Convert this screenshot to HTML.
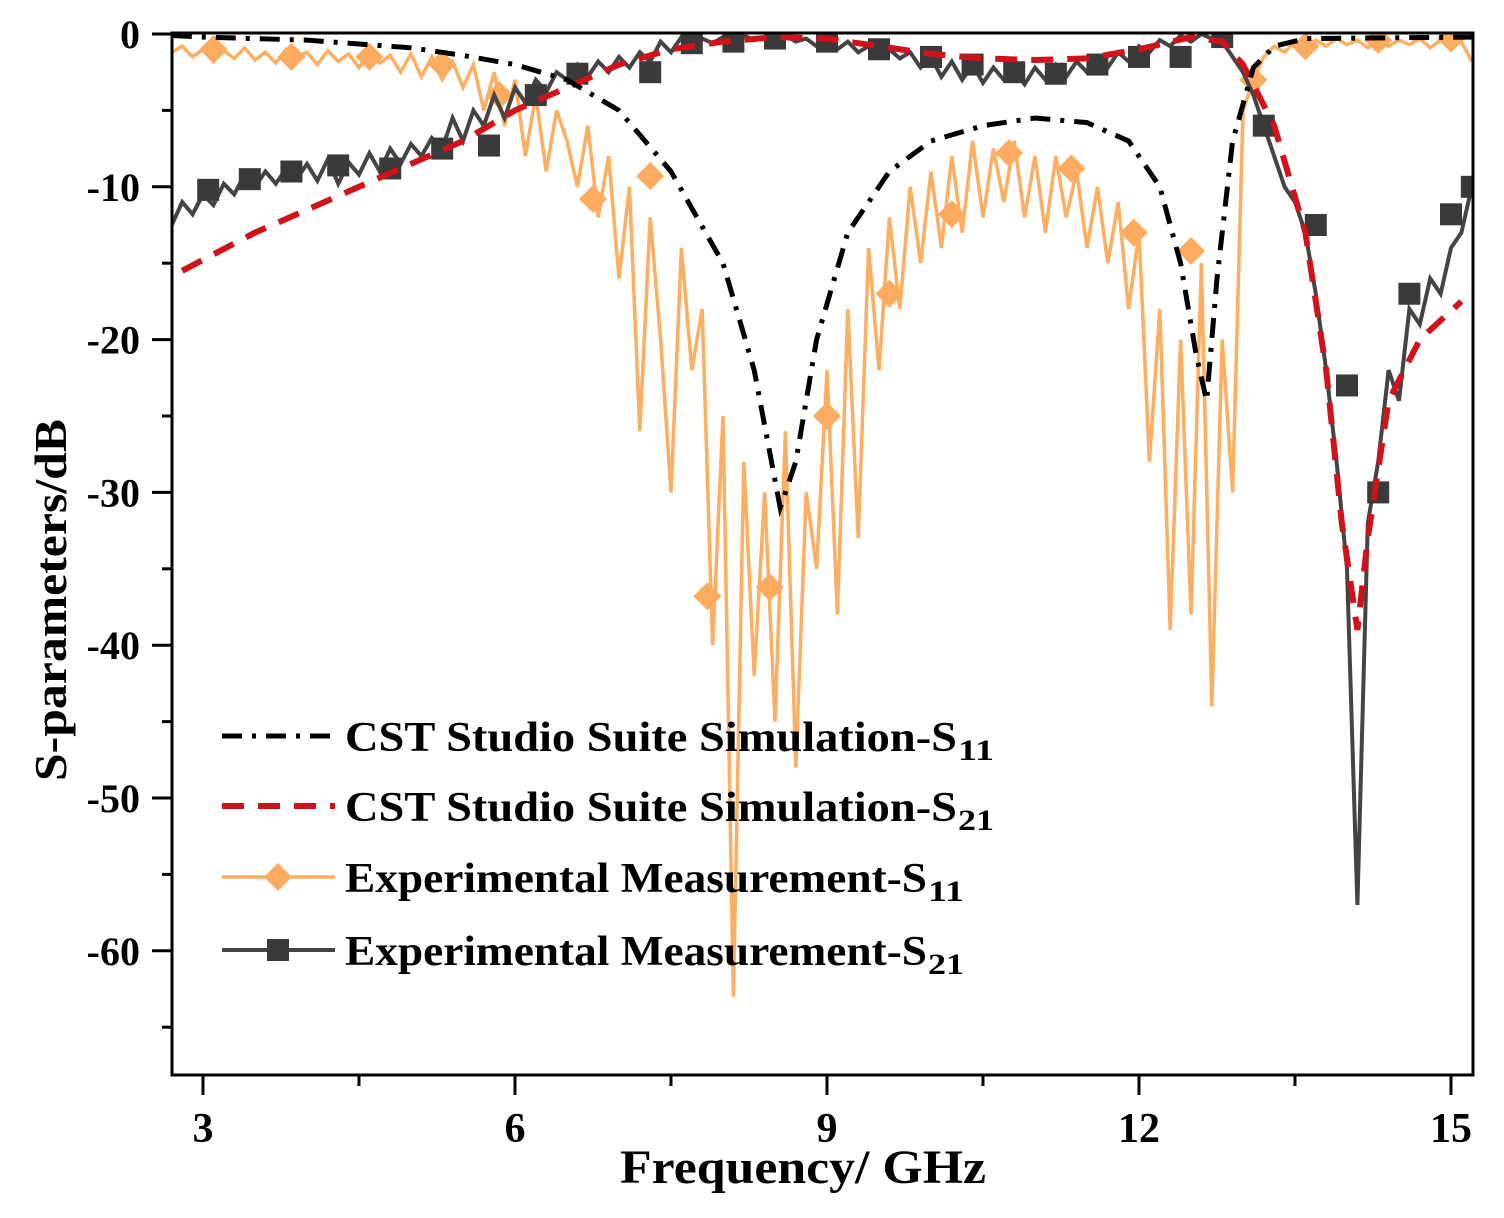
<!DOCTYPE html>
<html><head><meta charset="utf-8"><style>
html,body{margin:0;padding:0;background:#fff;}
svg{display:block;font-family:"Liberation Serif",serif;font-weight:bold;}
</style></head><body>
<svg id="chart" width="1504" height="1218" viewBox="0 0 1504 1218" xmlns="http://www.w3.org/2000/svg">
<defs><clipPath id="clip"><rect x="172" y="33" width="1301" height="1042"/></clipPath></defs>
<g id="plot" clip-path="url(#clip)"></g>
<rect x="172" y="33" width="1301" height="1042" fill="none" stroke="#000" stroke-width="3"/>
<g id="axes"></g>
<text x="620" y="1183" textLength="366" lengthAdjust="spacingAndGlyphs" font-size="48">Frequency/ GHz</text>
<text transform="translate(66,600) rotate(-90)" text-anchor="middle" textLength="362" lengthAdjust="spacingAndGlyphs" font-size="46">S-parameters/dB</text>
<g id="legend"></g>
</svg>
<script>
const xTicks=[3,6,9,12,15];
const xMinor=[4.5,7.5,10.5,13.5];
const yTicks=[0,-10,-20,-30,-40,-50,-60];
const yMinor=[-5,-15,-25,-35,-45,-55,-65];
const simS11F=[2.7,3,4,5,5.5,6,6.5,7,7.5,8,8.3,8.55,8.7,8.9,9.2,9.6,10,10.5,11,11.5,11.9,12.2,12.4,12.55,12.65,12.75,12.9,13.1,13.3,13.6,15.2];
const simS11V=[-0.1,-0.2,-0.4,-0.9,-1.4,-2,-3,-5,-9,-15,-22,-31,-28,-20,-13,-9,-7,-6,-5.5,-5.8,-7,-10,-15,-21,-24,-16,-7,-2.2,-0.8,-0.3,-0.2];
const simS21F=[2.8,3.5,4,4.5,5,5.5,6,6.5,7,7.5,8,8.5,9,9.5,10,10.5,11,11.5,12,12.5,12.8,13,13.3,13.6,13.8,13.95,14.1,14.2,14.4,14.7,15.1];
const simS21V=[-15.5,-13,-11.5,-10,-8.5,-7,-5,-3.5,-2,-1,-0.5,-0.2,-0.3,-0.8,-1.3,-1.6,-1.7,-1.6,-1,-0.2,-0.5,-2,-6,-13,-22,-32,-39,-33,-24,-20,-17.5];
const expStart=2.7, expStep=0.1;
const expS11=[-1.2,-0.8,-1.5,-1,-1.8,-1.1,-1.6,-0.9,-1.7,-1.2,-1.9,-1,-1.5,-1.2,-2,-1.1,-1.8,-1.3,-2.2,-1.2,-1.9,-1.4,-2.5,-1.3,
-2.8,-1.5,-3,-1.8,-3.5,-2,-5,-2.5,-6,-3,
-8,-4,-9,-5,-7,-10,-6,-12,-8,-16,
-10,-26,-12,-20,-30,-14,-22,-18,-40,-25,
-63,-28,-42,-30,-45,-26,-48,-30,-35,-22,
-38,-18,-33,-14,-22,-12,-18,-10,-15,-9,
-14,-8,-13,-7,-12,-7.5,-11,-7,-12,-8,
-13,-8,-12,-9,-14,-10,-15,-11,-18,-13,
-28,-18,-39,-20,-38,-15,-44,-20,-30,-5,
-3,-1.5,-0.8,-1.2,-0.5,-1,-0.4,-0.8,-0.3,-0.7,
-0.4,-0.9,-0.3,-0.8,-0.4,-0.7,-0.3,-0.9,-0.4,-0.8,-0.5,-1.8];
const expS21=[-12.5,-11,-11.8,-10.5,-11.2,-9.8,-10.5,-9.2,-10,-9,-9.8,-8.8,-9.5,-8.5,-9.6,-8.2,-9.8,-8.4,-9.2,-7.8,-9,-7.5,-8.5,-7.2,
-8,-6.8,-7.5,-5.5,-7,-5,-6,-4,-5.5,-3.5,
-4.5,-3,-3.8,-2.5,-3,-2,-2.8,-1.8,-2.5,-1.5,
-2.2,-1.2,-1.8,-0.5,-1.2,-0.2,-0.8,-0.3,-0.6,-0.2,
-0.5,-0.1,-0.4,-0.2,-0.6,-0.1,-0.5,-0.3,-0.8,-0.4,
-1,-0.5,-1.2,-0.8,-1.4,-1,-1.6,-1.2,-2.2,-1.5,
-2.8,-1.8,-3,-2,-3.2,-2.2,-3,-2.4,-3.3,-2.2,
-3,-2,-2.8,-1.8,-2.5,-1.5,-2.2,-1.2,-1.8,-0.8,
-1.2,-0.4,-0.8,-0.1,-0.5,0,-0.3,-0.5,-1.5,-2.5,
-4,-6,-8,-10,-11,-13,-17,-22,-28,-35,
-57,-32,-28,-22,-24,-18,-19,-16,-17,-14,-13,-10];
const s11MarkF=[3.1,3.85,4.6,5.3,5.85,6.75,7.3,7.85,8.45,9.0,9.6,10.2,10.75,11.35,11.95,12.5,13.1,13.6,14.3,15];
const s11MarkV=[-1,-1.5,-1.5,-2,-4,-10.8,-9.3,-36.8,-36.2,-25,-17,-11.8,-7.8,-8.8,-13,-14.2,-3,-0.8,-0.4,-0.3];
const s21MarkF=[3.05,3.45,3.85,4.3,4.8,5.3,5.75,6.2,6.6,7.3,7.7,8.1,8.5,9.0,9.5,10.0,10.4,10.8,11.2,11.6,12.0,12.4,12.8,13.2,13.7,14.0,14.3,14.6,15.0,15.2];
const s21MarkV=[-10.2,-9.5,-9,-8.6,-8.8,-7.5,-7.3,-4,-2.6,-2.5,-0.6,-0.5,-0.3,-0.5,-1,-1.5,-2,-2.5,-2.6,-2,-1.5,-1.5,-0.2,-6,-12.5,-23,-30,-17,-11.8,-10];

const X=f=>203+(f-3)*104;
const Y=v=>34-v*15.28;
const NS='http://www.w3.org/2000/svg';
function mk(tag,attrs,parent){const e=document.createElementNS(NS,tag);for(const k in attrs)e.setAttribute(k,attrs[k]);parent.appendChild(e);return e;}
const plot=document.getElementById('plot'), axes=document.getElementById('axes'), legend=document.getElementById('legend');
function path(fs,vs){return fs.map((f,i)=>(i?'L':'M')+X(f).toFixed(1)+','+Y(vs[i]).toFixed(1)).join('');}
const expF=expS11.map((_,i)=>expStart+i*expStep);

let p;
p=mk('path',{d:path(expF,expS11),fill:'none',stroke:'#fdae61',"stroke-width":3.5},plot);


s11MarkF.forEach((f,i)=>{const x=X(f),y=Y(s11MarkV[i]);
 const m=mk('path',{d:`M${x},${y-14}L${x+14},${y}L${x},${y+14}L${x-14},${y}Z`,fill:'#fdab5e'},plot);
 
 });
p=mk('path',{d:path(expF,expS21),fill:'none',stroke:'#444',"stroke-width":4},plot);


s21MarkF.forEach((f,i)=>{const x=X(f),y=Y(s21MarkV[i]);
 const m=mk('rect',{x:x-11,y:y-11,width:22,height:22,fill:'#3a3a3a'},plot);
 
 });
p=mk('path',{d:path(simS21F,simS21V),fill:'none',stroke:'#d0121b',"stroke-width":6,"stroke-dasharray":"22,14"},plot);


p=mk('path',{d:path(simS11F,simS11V),fill:'none',stroke:'#000',"stroke-width":5,"stroke-dasharray":"20,10,4,10"},plot);



xTicks.forEach(t=>{mk('line',{x1:X(t),x2:X(t),y1:1075,y2:1095,stroke:'#000',"stroke-width":3},axes);
 const tx=mk('text',{x:X(t),y:1142,"text-anchor":"middle","font-size":42},axes);tx.textContent=t;
 
 });
xMinor.forEach(t=>mk('line',{x1:X(t),x2:X(t),y1:1075,y2:1086,stroke:'#000',"stroke-width":3},axes));
yTicks.forEach(t=>{mk('line',{x1:152,x2:172,y1:Y(t),y2:Y(t),stroke:'#000',"stroke-width":3},axes);
 const tx=mk('text',{x:140,y:Y(t)+14,"text-anchor":"end","font-size":40},axes);tx.textContent=t;
 
 });
yMinor.forEach(t=>mk('line',{x1:162,x2:172,y1:Y(t),y2:Y(t),stroke:'#000',"stroke-width":3},axes));

const legItems=[
 {y:736,label:'CST Studio Suite Simulation-S',len:612,sub:'11',stroke:'#000',dash:'20,10,4,10',w:5,mark:null,name:'legend-sim-s11'},
 {y:806,label:'CST Studio Suite Simulation-S',len:612,sub:'21',stroke:'#d0121b',dash:'22,14',w:6,mark:null,name:'legend-sim-s21'},
 {y:877,label:'Experimental Measurement-S',len:582,sub:'11',stroke:'#fdae61',dash:'',w:3.5,mark:'d',name:'legend-exp-s11'},
 {y:950,label:'Experimental Measurement-S',len:582,sub:'21',stroke:'#444',dash:'',w:4,mark:'s',name:'legend-exp-s21'}];
legItems.forEach(it=>{
 const g=mk('g',{},legend);
 
 
 mk('line',{x1:222,x2:335,y1:it.y,y2:it.y,stroke:it.stroke,"stroke-width":it.w,"stroke-dasharray":it.dash},g);
 if(it.mark==='d')mk('path',{d:`M278,${it.y-14}L292,${it.y}L278,${it.y+14}L264,${it.y}Z`,fill:'#fdab5e'},g);
 if(it.mark==='s')mk('rect',{x:267,y:it.y-11,width:22,height:22,fill:'#3a3a3a'},g);
 const t=mk('text',{x:345,y:it.y+15,"font-size":42,textLength:it.len,lengthAdjust:'spacingAndGlyphs'},g);
 t.textContent=it.label;
 const s=mk('text',{x:345+it.len+1,y:it.y+24,"font-size":30,textLength:36,lengthAdjust:'spacingAndGlyphs'},g);
 s.textContent=it.sub;
});
</script>
</body></html>
